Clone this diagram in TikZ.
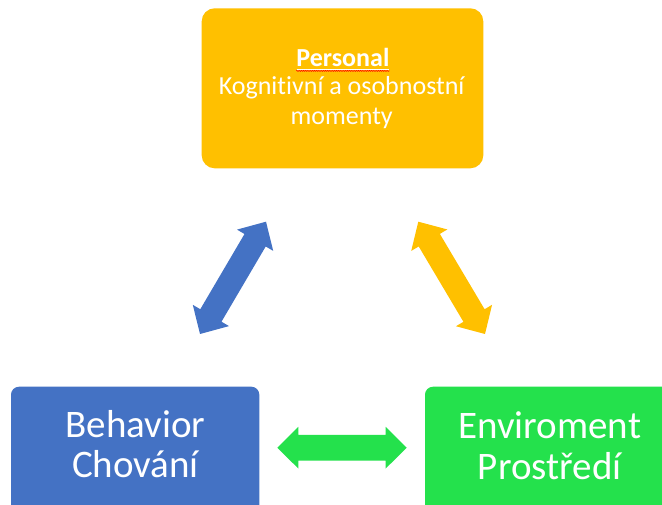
\documentclass[tikz,border=0pt]{standalone}
\usepackage{fontspec}
\setmainfont{Carlito}[Ligatures=NoCommon]
\usetikzlibrary{calc,decorations.pathmorphing}
\definecolor{cyel}{HTML}{FFC000}
\definecolor{cblue}{HTML}{4472C4}
\definecolor{cgreen}{HTML}{24E14C}
\newcommand\dblblockarrow[6]{%
  \coordinate (#1-h) at ($(#1)!#3!(#2)$);
  \coordinate (#2-h) at ($(#2)!#3!(#1)$);
  \fill[#6] (#1) -- ($(#1-h)!#4!90:(#2)$) -- ($(#1-h)!#5!90:(#2)$)
    -- ($(#2-h)!#5!-90:(#1)$) -- ($(#2-h)!#4!-90:(#1)$) -- (#2)
    -- ($(#2-h)!#4!90:(#1)$) -- ($(#2-h)!#5!90:(#1)$)
    -- ($(#1-h)!#5!-90:(#2)$) -- ($(#1-h)!#4!-90:(#2)$) -- cycle;}
\tikzset{
  box/.style={draw=none, inner sep=0pt, rounded corners=#1},
  txttop/.style={text=white, inner sep=0pt, anchor=base, font=\fontsize{26}{30}\selectfont},
  txtbig/.style={text=white, inner sep=0pt, anchor=base, font=\fontsize{39}{40}\selectfont},
}
\begin{document}
\begin{tikzpicture}[x=1pt,y=-1pt]
\useasboundingbox (0,0) rectangle (662,505);
\clip (0,0) rectangle (662,505);
\fill[white] (0,0) rectangle (662,505);
% boxes
\node[box=13pt, fill=cyel, minimum width=281.6pt, minimum height=160pt] (personal) at (342.5,88.3) {};
\node[box=8pt, fill=cblue, minimum width=248.3pt, minimum height=130pt] (behavior) at (135.15,451.7) {};
\node[box=8pt, fill=cgreen, minimum width=249pt, minimum height=130pt] (environment) at (549.5,451.7) {};
% texts
\node[txttop, font=\fontsize{26}{30}\selectfont\bfseries] (t1) at (342.9,66.7) {Personal};
\draw[white, line width=1.1pt] ($(t1.base west)+(0.5,2.4)$) -- ($(t1.base east)+(-0.5,2.4)$);
\draw[red, line width=0.6pt, decorate, decoration={snake, amplitude=0.5pt, segment length=2.2pt}] ($(t1.base west)+(0,4.2)$) -- ($(t1.base east)+(0,4.2)$);
\node[txttop] (t2) at (341.7,95) {Kognitivní a osobnostní};
\node[txttop] (t3) at (341.7,125) {momenty};
\node[txtbig] (b1) at (135.3,437.3) {Behavior};
\node[txtbig] (b2) at (135.5,477.3) {Chování};
\node[txtbig] (e1) at (549.7,438) {Enviroment};
\node[txtbig] (e2) at (549.7,479) {Prostředí};
% arrows
\coordinate (bA) at (200,334);
\coordinate (bB) at (266,221.7);
\coordinate (yA) at (418.3,221.7);
\coordinate (yB) at (485,334);
\coordinate (gA) at (277.3,447.7);
\coordinate (gB) at (406.7,447.7);
\dblblockarrow{bA}{bB}{21.5pt}{21pt}{12.3pt}{cblue}
\dblblockarrow{yA}{yB}{21.5pt}{21pt}{12.3pt}{cyel}
\dblblockarrow{gA}{gB}{21pt}{20.8pt}{12.8pt}{cgreen}
\end{tikzpicture}
\end{document}
